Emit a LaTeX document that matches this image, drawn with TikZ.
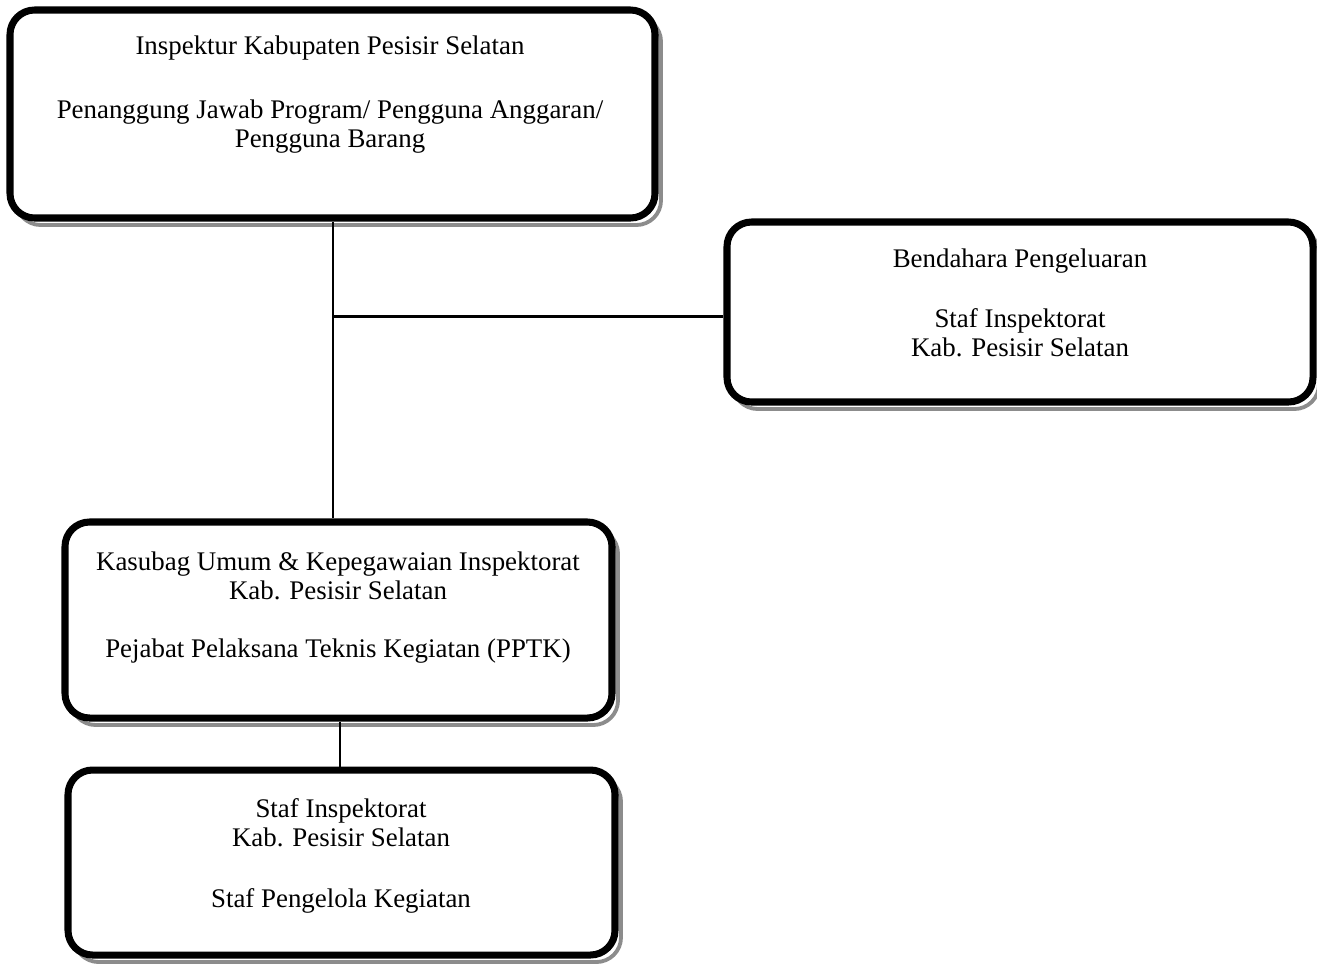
\documentclass[tikz,border=0pt]{standalone}
\usepackage{fontspec}
\setmainfont{Liberation Serif}
\begin{document}
\begin{tikzpicture}[x=0.02cm,y=-0.02cm,
  orgbox/.style={draw=black,line width=4pt,rounded corners=14pt,fill=white,inner sep=0pt},
  shadowline/.style={draw=black!45,line width=2.2pt,rounded corners=14pt},
  lbl/.style={align=center,font=\fontsize{15.3}{16.5}\selectfont,inner sep=0pt},
  conn/.style={draw=black,line width=1.7pt}]
\useasboundingbox (0,0) rectangle (1317,964);
% shadows
\draw[shadowline] (16,17) rectangle (661,225);
\draw[shadowline] (733,229) rectangle (1319,409);
\draw[shadowline] (71,529) rectangle (618,725);
\draw[shadowline] (74,777) rectangle (621,962);
% boxes
\coordinate (j) at (333,316);
\coordinate (k) at (340,740);
\node[orgbox,minimum width=645*0.02cm,minimum height=208*0.02cm] (b1) at (332.5,114) {};
\node[orgbox,minimum width=586*0.02cm,minimum height=180*0.02cm] (b2) at (1020,312) {};
\node[orgbox,minimum width=547*0.02cm,minimum height=196*0.02cm] (b3) at (338.5,620) {};
\node[orgbox,minimum width=547*0.02cm,minimum height=185*0.02cm] (b4) at (341.5,862.5) {};
% connectors
\draw[conn] (b1.south -| j) -- (j) -- (b3.north -| j);
\draw[conn] (j) -- (j -| b2.west);
\draw[conn] (b3.south -| k) -- (b4.north -| k);
% labels (base anchor = baseline of last line)
\node[lbl,anchor=base] (t1a) at (330,54) {Inspektur Kabupaten Pesisir Selatan};
\node[lbl,anchor=base] (t1b) at (330,147) {Penanggung Jawab Program/ Pengguna Anggaran/\\Pengguna Barang};
\node[lbl,anchor=base] (t2a) at (1020,267) {Bendahara Pengeluaran};
\node[lbl,anchor=base] (t2b) at (1020,356) {Staf Inspektorat\\Kab. Pesisir Selatan};
\node[lbl,anchor=base] (t3a) at (338,599) {Kasubag Umum \& Kepegawaian Inspektorat\\Kab. Pesisir Selatan};
\node[lbl,anchor=base] (t3b) at (338,657) {Pejabat Pelaksana Teknis Kegiatan (PPTK)};
\node[lbl,anchor=base] (t4a) at (341,846) {Staf Inspektorat\\Kab. Pesisir Selatan};
\node[lbl,anchor=base] (t4b) at (341,907) {Staf Pengelola Kegiatan};
\end{tikzpicture}
\end{document}
